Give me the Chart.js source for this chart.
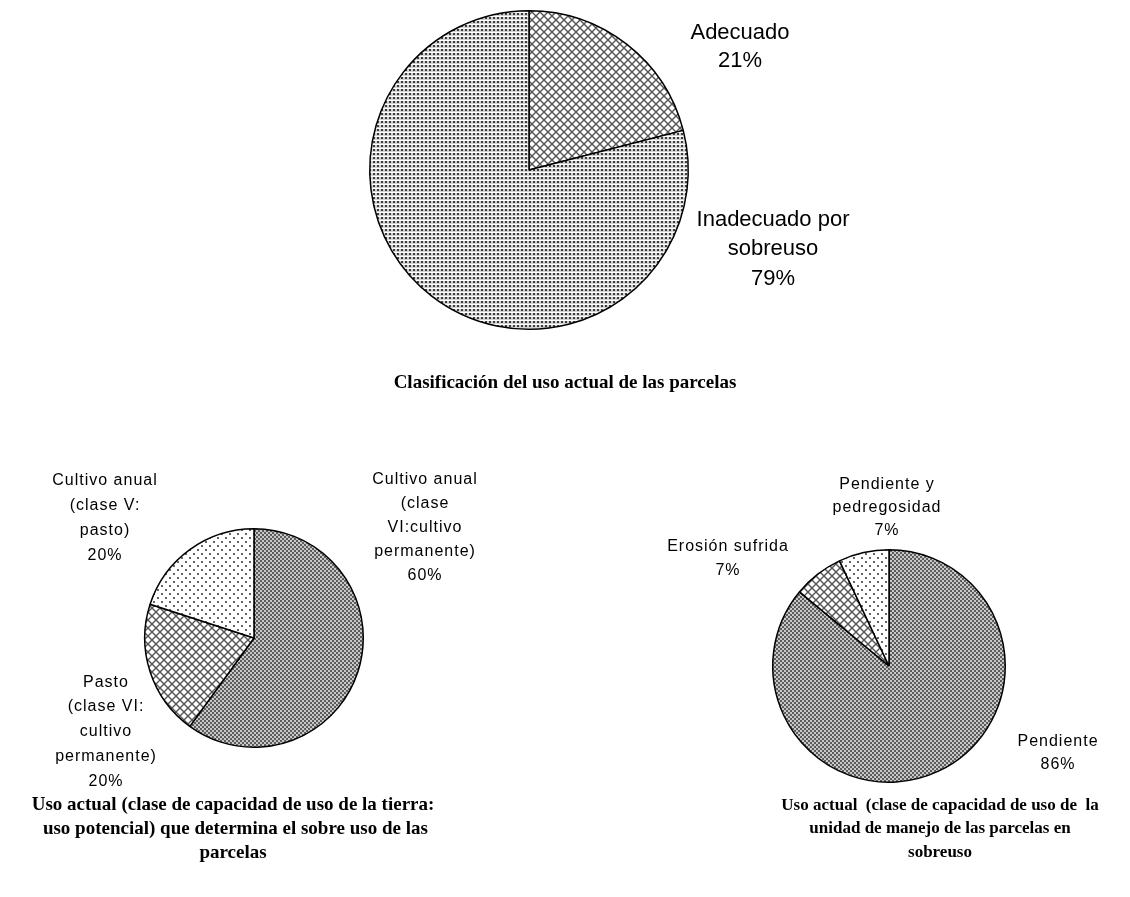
<!DOCTYPE html>
<html>
<head>
<meta charset="utf-8">
<script src="https://cdn.jsdelivr.net/npm/chart.js@4"></script>
<style>
  body { margin: 0; background: #fff; }
  #wrap { position: relative; width: 1130px; height: 897px; }
  #wrap canvas { position: absolute; left: 0; top: 0; }
</style>
</head>
<body>
<div id="wrap">
  <canvas id="pieTop" width="1130" height="897"></canvas>
  <canvas id="pieLeft" width="1130" height="897"></canvas>
  <canvas id="pieRight" width="1130" height="897"></canvas>
</div>
<script>
// Data
const topLabels = ['Adecuado', 'Inadecuado por sobreuso'];
const topValues = [21, 79];

const leftLabels = ['Cultivo anual (clase VI:cultivo permanente)', 'Pasto (clase VI: cultivo permanente)', 'Cultivo anual (clase V: pasto)'];
const leftValues = [60, 20, 20];

const rightLabels = ['Pendiente', 'Erosión sufrida', 'Pendiente y pedregosidad'];
const rightValues = [86, 7, 7];

// fill patterns
function makePattern(size, paint) {
  const c = document.createElement('canvas');
  c.width = size; c.height = size;
  const g = c.getContext('2d');
  paint(g, size);
  return g.createPattern(c, 'repeat');
}

const crossHatch = makePattern(8, (g, s) => {
  g.fillStyle = '#fff'; g.fillRect(0, 0, s, s);
  g.strokeStyle = '#555'; g.lineWidth = 1.4;
  g.beginPath();
  g.moveTo(-1, -1); g.lineTo(s + 1, s + 1);
  g.moveTo(-1, s + 1); g.lineTo(s + 1, -1);
  g.stroke();
});
const denseDots = makePattern(4, (g, s) => {
  g.fillStyle = '#d2d2d2'; g.fillRect(0, 0, s, s);
  g.fillStyle = '#fff'; g.fillRect(0, 0, s, 1);
  g.fillStyle = '#3c3c3c'; g.fillRect(1, 1, 2, 2);
});
const sparseDots = makePattern(8, (g, s) => {
  g.fillStyle = '#fff'; g.fillRect(0, 0, s, s);
  g.fillStyle = '#666';
  g.fillRect(1, 1, 2, 2);
  g.fillRect(5, 5, 2, 2);
});
const darkChecker = makePattern(4, (g, s) => {
  g.fillStyle = '#c8c8c8'; g.fillRect(0, 0, s, s);
  g.fillStyle = '#5c5c5c';
  g.fillRect(0, 0, 2, 2); g.fillRect(2, 2, 2, 2);
});

const labelFontBig = '22px "Liberation Sans", Arial, sans-serif';
const labelFontSmall = '16px "Liberation Sans", Arial, sans-serif';

// text drawn on top of each chart: [text, x, y]
const textBlocks = {
  pieTop: [
    { font: labelFontBig, spacing: '0px', lines: [
      ['Adecuado', 740, 33], ['21%', 740, 61],
      ['Inadecuado por', 773, 220], ['sobreuso', 773, 249], ['79%', 773, 279]
    ]},
    { font: 'bold 19px "Liberation Serif", "Times New Roman", serif', spacing: '0px', lines: [
      ['Clasificación del uso actual de las parcelas', 565, 383]
    ]}
  ],
  pieLeft: [
    { font: labelFontSmall, spacing: '1px', lines: [
      ['Cultivo anual', 105, 481], ['(clase V:', 105, 506], ['pasto)', 105, 531], ['20%', 105, 556],
      ['Cultivo anual', 425, 480], ['(clase', 425, 504], ['VI:cultivo', 425, 528], ['permanente)', 425, 552], ['60%', 425, 576],
      ['Pasto', 106, 683], ['(clase VI:', 106, 707], ['cultivo', 106, 732], ['permanente)', 106, 757], ['20%', 106, 782]
    ]},
    { font: 'bold 19px "Liberation Serif", "Times New Roman", serif', spacing: '0px', lines: [
      ['Uso actual (clase de capacidad de uso de la tierra:', 233, 805],
      [' uso potencial) que determina el sobre uso de las', 233, 829],
      ['parcelas', 233, 853]
    ]}
  ],
  pieRight: [
    { font: labelFontSmall, spacing: '1px', lines: [
      ['Pendiente y', 887, 485], ['pedregosidad', 887, 508], ['7%', 887, 531],
      ['Erosión sufrida', 728, 547], ['7%', 728, 571],
      ['Pendiente', 1058, 742], ['86%', 1058, 765]
    ]},
    { font: 'bold 17px "Liberation Serif", "Times New Roman", serif', spacing: '0px', lines: [
      ['Uso actual  (clase de capacidad de uso de  la', 940, 806],
      ['unidad de manejo de las parcelas en', 940, 829],
      ['sobreuso', 940, 853]
    ]}
  ]
};

const textPlugin = {
  id: 'fixedText',
  afterDraw(chart) {
    const ctx = chart.ctx;
    ctx.save();
    ctx.fillStyle = '#000';
    ctx.textAlign = 'center';
    ctx.textBaseline = 'middle';
    for (const block of textBlocks[chart.canvas.id]) {
      ctx.font = block.font;
      ctx.letterSpacing = block.spacing;
      for (const [t, x, y] of block.lines) ctx.fillText(t, x, y);
    }
    ctx.restore();
  }
};

function makePie(id, labels, values, fills, pad) {
  return new Chart(document.getElementById(id), {
    type: 'pie',
    data: {
      labels: labels,
      datasets: [{
        data: values,
        backgroundColor: fills,
        borderColor: '#000',
        borderWidth: 1.5
      }]
    },
    plugins: [textPlugin],
    options: {
      responsive: false,
      animation: false,
      layout: { padding: pad },
      plugins: {
        legend: { display: false },
        tooltip: { enabled: false }
      }
    }
  });
}

makePie('pieTop', topLabels, topValues, [crossHatch, denseDots],
  { left: 369, right: 441, top: 10, bottom: 567 });
makePie('pieLeft', leftLabels, leftValues, [darkChecker, crossHatch, sparseDots],
  { left: 144, right: 766, top: 528, bottom: 149 });
makePie('pieRight', rightLabels, rightValues, [darkChecker, crossHatch, sparseDots],
  { left: 772, right: 124, top: 549, bottom: 114 });
</script>
</body>
</html>
